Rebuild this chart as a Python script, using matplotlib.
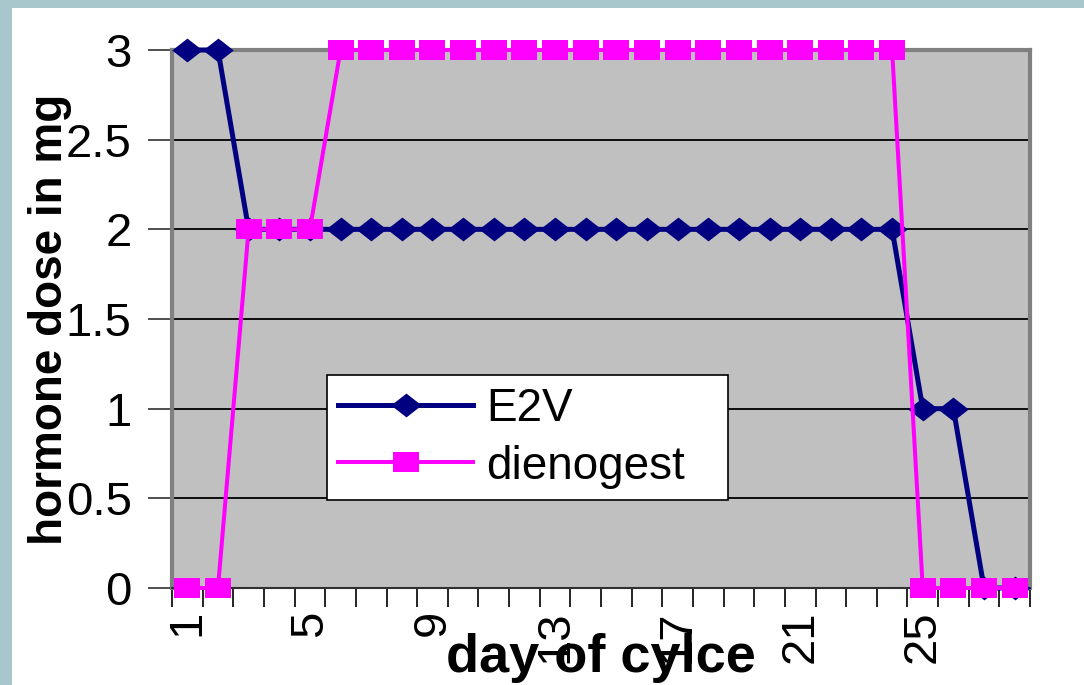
import numpy as np
import matplotlib
matplotlib.use("Agg")
import matplotlib.pyplot as plt
from matplotlib.path import Path
from matplotlib.patches import Rectangle
from matplotlib.ticker import FixedLocator

plt.rcParams["font.family"] = ["Liberation Sans", "DejaVu Sans"]

# data
days = list(range(1, 29))
e2v = [3, 3, 2, 2, 2, 2, 2, 2, 2, 2, 2, 2, 2, 2, 2, 2, 2, 2, 2, 2, 2, 2, 2, 2, 1, 1, 0, 0]
dienogest = [0, 0, 2, 2, 2, 3, 3, 3, 3, 3, 3, 3, 3, 3, 3, 3, 3, 3, 3, 3, 3, 3, 3, 3, 0, 0, 0, 0]
tick_days = [1, 5, 9, 13, 17, 21, 25]
tick_labels = ["1", "5", "9", "13", "17", "21", "25"]
y_ticks = [0, 0.5, 1, 1.5, 2, 2.5, 3]
y_labels = ["0", "0.5", "1", "1.5", "2", "2.5", "3"]

# wide diamond / flat square markers (excel look)
diamond = Path([(0, 0.78), (1, 0), (0, -0.78), (-1, 0), (0, 0.78)],
               [Path.MOVETO, Path.LINETO, Path.LINETO, Path.LINETO, Path.CLOSEPOLY])
square = Path([(-1, -0.78), (1, -0.78), (1, 0.78), (-1, 0.78), (-1, -0.78)],
              [Path.MOVETO, Path.LINETO, Path.LINETO, Path.LINETO, Path.CLOSEPOLY])

fig = plt.figure(figsize=(10.84, 6.85), dpi=100)
fig.patch.set_facecolor("#a7c7cc")
# white slide area
fig.patches.append(Rectangle((12 / 1084, 0), 1, 1 - 8 / 685, transform=fig.transFigure,
                             facecolor="white", edgecolor="none", zorder=-10))

ax = fig.add_axes([172 / 1084, 1 - 588 / 685, (1030 - 172) / 1084, (588 - 50) / 685])
ax.set_facecolor("#c0c0c0")

ax.plot(days, e2v, color="#000080", lw=3.6, marker=diamond, markersize=22,
        markeredgewidth=0, label="E2V", clip_on=False, zorder=3)
ax.plot(days, dienogest, color="#ff00ff", lw=2.9, marker=square, markersize=18.8,
        markeredgewidth=0, label="dienogest", clip_on=False, zorder=4)

ax.set_xlim(0.5, 28.5)
ax.set_ylim(0, 3)

ax.set_yticks(y_ticks, y_labels)
ax.yaxis.grid(True, color="black", lw=1.3)
ax.set_axisbelow(True)
ax.tick_params(axis="y", length=17, width=1.3, color="#404040", pad=12, labelsize=34)

ax.set_xticks(tick_days, tick_labels, rotation=90)
ax.xaxis.set_minor_locator(FixedLocator(np.arange(0.5, 29, 1)))
ax.tick_params(axis="x", which="major", length=0, pad=16, labelsize=34)
ax.tick_params(axis="x", which="minor", length=14, width=1.2, color="black")
for lab in ax.get_xticklabels():
    lab.set_va("top")

for s in ["top", "right", "left"]:
    ax.spines[s].set_color("#808080")
    ax.spines[s].set_linewidth(3)
ax.spines["bottom"].set_color("#303030")
ax.spines["bottom"].set_linewidth(1.5)

ax.set_ylabel("hormone dose in mg", fontsize=33, fontweight="bold")
ax.yaxis.set_label_coords(-0.117, 0.5)
ax.set_xlabel("day of cylce", fontsize=39, fontweight="bold", va="baseline")
ax.xaxis.set_label_coords(0.5, -0.156)

leg = ax.legend(loc="lower left", bbox_to_anchor=(0.1807, 0.1636, 0.467, 0.0),
                mode="expand", borderaxespad=0,
                fontsize=33, frameon=True, fancybox=False, edgecolor="black",
                facecolor="white", framealpha=1, handlelength=2.93, handletextpad=0.3,
                borderpad=0.25, labelspacing=0.3)
leg.get_frame().set_linewidth(1.2)

fig.savefig("out.png", dpi=100)
